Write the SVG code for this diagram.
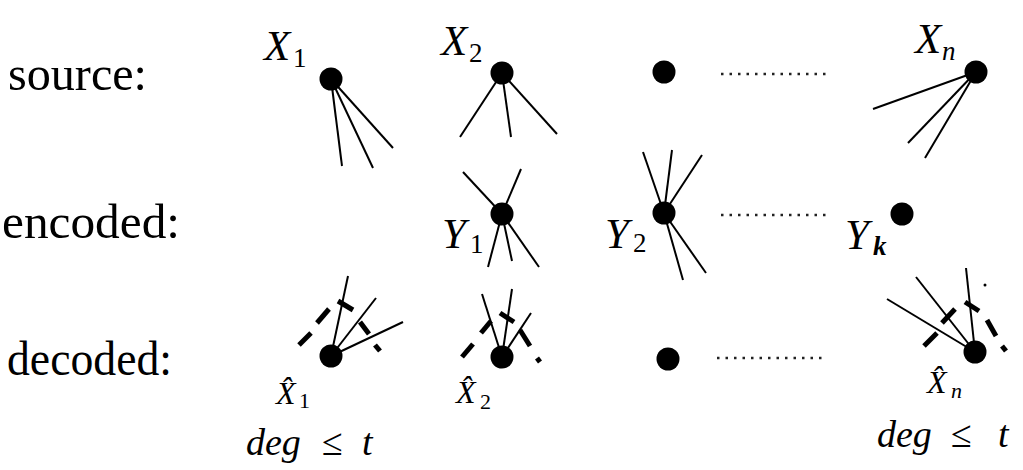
<svg xmlns="http://www.w3.org/2000/svg" width="1023" height="470" viewBox="0 0 1023 470">
<style>
.lbl{font-family:"Liberation Serif",serif;font-size:49px;fill:#000}
.m{font-family:"Liberation Serif",serif;font-style:italic;fill:#000}
.big{font-size:43px}
.sub{font-size:27px;font-style:normal}
.subi{font-size:27px}
.hat{font-size:32px}
.hsub{font-size:22px;font-style:normal}
.hsubi{font-size:22px}
.deg{font-size:38px}
.rel{font-style:normal}
.edge{stroke:#000;stroke-width:2;fill:none}
.cut{stroke:#000;stroke-width:5;fill:none;stroke-linecap:butt}
.dots{stroke:#222;stroke-width:2.5;stroke-dasharray:2.5 6;fill:none}
.dot{fill:#000}
</style>
<rect width="1023" height="470" fill="#fff"/>

<g id="row-labels">
<text class="lbl" x="8" y="90" textLength="139" lengthAdjust="spacingAndGlyphs">source:</text>
<text class="lbl" x="2" y="238" textLength="178" lengthAdjust="spacingAndGlyphs">encoded:</text>
<text class="lbl" x="7" y="375" textLength="165" lengthAdjust="spacingAndGlyphs">decoded:</text>
</g>

<g id="connectors">
<line class="edge" x1="331" y1="79" x2="342" y2="166"/>
<line class="edge" x1="331" y1="79" x2="373" y2="168"/>
<line class="edge" x1="331" y1="79" x2="393" y2="148"/>
<line class="edge" x1="502" y1="73" x2="460" y2="137"/>
<line class="edge" x1="502" y1="73" x2="511" y2="137"/>
<line class="edge" x1="502" y1="73" x2="557" y2="134"/>
<line class="edge" x1="976" y1="72" x2="873" y2="109"/>
<line class="edge" x1="976" y1="72" x2="908" y2="143"/>
<line class="edge" x1="976" y1="72" x2="925" y2="158"/>
<line class="edge" x1="502" y1="214" x2="463" y2="172"/>
<line class="edge" x1="502" y1="214" x2="521" y2="169"/>
<line class="edge" x1="502" y1="214" x2="488" y2="267"/>
<line class="edge" x1="502" y1="214" x2="512" y2="261"/>
<line class="edge" x1="502" y1="214" x2="539" y2="267"/>
<line class="edge" x1="664" y1="213" x2="643" y2="152"/>
<line class="edge" x1="664" y1="213" x2="672" y2="150"/>
<line class="edge" x1="664" y1="213" x2="702" y2="155"/>
<line class="edge" x1="664" y1="213" x2="683" y2="280"/>
<line class="edge" x1="664" y1="213" x2="706" y2="273"/>
<line class="edge" x1="331" y1="356" x2="348" y2="276"/>
<line class="edge" x1="331" y1="356" x2="376" y2="298"/>
<line class="edge" x1="331" y1="356" x2="403" y2="322"/>
<line class="edge" x1="502" y1="357" x2="482" y2="294"/>
<line class="edge" x1="502" y1="357" x2="512" y2="289"/>
<line class="edge" x1="502" y1="357" x2="531" y2="313"/>
<line class="edge" x1="975" y1="352" x2="887" y2="299"/>
<line class="edge" x1="975" y1="352" x2="916" y2="277"/>
<line class="edge" x1="975" y1="352" x2="966" y2="268"/>
<line class="dots" x1="721" y1="74" x2="827" y2="74"/>
<line class="dots" x1="721" y1="215" x2="827" y2="215"/>
<line class="dots" x1="717" y1="358" x2="827" y2="358"/>
<g id="cut1">
<line class="cut" x1="299" y1="345" x2="311" y2="333"/>
<line class="cut" x1="317" y1="323" x2="329" y2="309"/>
<line class="cut" x1="338" y1="301" x2="353" y2="310"/>
<line class="cut" x1="360" y1="322" x2="369" y2="334"/>
<line class="cut" x1="375" y1="345" x2="380" y2="351"/>
</g>
<g id="cut2">
<line class="cut" x1="462" y1="357" x2="473" y2="344"/>
<line class="cut" x1="481" y1="333" x2="491" y2="321"/>
<line class="cut" x1="500" y1="313" x2="514" y2="322"/>
<line class="cut" x1="520" y1="330" x2="530" y2="346"/>
<line class="cut" x1="537" y1="358" x2="540" y2="362"/>
</g>
<g id="cutn">
<line class="cut" x1="924" y1="346" x2="937" y2="333"/>
<line class="cut" x1="942" y1="323" x2="955" y2="309"/>
<line class="cut" x1="965" y1="302" x2="979" y2="311"/>
<line class="cut" x1="987" y1="320" x2="996" y2="336"/>
<line class="cut" x1="1002" y1="346" x2="1006" y2="351"/>
<circle cx="985" cy="285" r="1.5" fill="#000"/>
</g>
</g>

<g id="node-X1"><circle class="dot" cx="331" cy="79" r="11.5"/>
<text class="m big" x="264" y="60">X</text><text class="m sub" x="293" y="67">1</text></g>
<g id="node-X2"><circle class="dot" cx="502" cy="73" r="11.5"/>
<text class="m big" x="441" y="55">X</text><text class="m sub" x="469" y="62">2</text></g>
<g id="node-Xmid"><circle class="dot" cx="664" cy="72" r="11.5"/></g>
<g id="node-Xn"><circle class="dot" cx="976" cy="72" r="11.5"/>
<text class="m big" x="915" y="53">X</text><text class="m subi" x="942" y="60">n</text></g>

<g id="node-Y1"><circle class="dot" cx="502" cy="214" r="11.5"/>
<text class="m big" x="442" y="248">Y</text><text class="m sub" x="470" y="253">1</text></g>
<g id="node-Y2"><circle class="dot" cx="664" cy="213" r="11.5"/>
<text class="m big" x="605" y="248">Y</text><text class="m sub" x="633" y="252">2</text></g>
<g id="node-Yk"><circle class="dot" cx="902" cy="214" r="11.5"/>
<text class="m big" x="845" y="249">Y</text><text class="m subi" x="873" y="255" font-weight="bold">k</text></g>

<g id="node-Xh1"><circle class="dot" cx="331" cy="356" r="11.5"/>
<text class="m hat" x="276" y="404">X̂</text><text class="m hsub" x="299" y="408">1</text>
<text class="m deg" x="246" y="455">deg</text><text class="m deg rel" x="322" y="455">≤</text><text class="m deg" x="362" y="455">t</text></g>
<g id="node-Xh2"><circle class="dot" cx="502" cy="357" r="11.5"/>
<text class="m hat" x="456" y="403">X̂</text><text class="m hsub" x="480" y="409">2</text></g>
<g id="node-Xhmid"><circle class="dot" cx="668" cy="359" r="11.5"/></g>
<g id="node-Xhn"><circle class="dot" cx="975" cy="352" r="11.5"/>
<text class="m hat" x="927" y="393">X̂</text><text class="m hsubi" x="951" y="398">n</text>
<text class="m deg" x="877" y="447">deg</text><text class="m deg rel" x="951" y="447">≤</text><text class="m deg" x="998" y="447">t</text></g>
</svg>
